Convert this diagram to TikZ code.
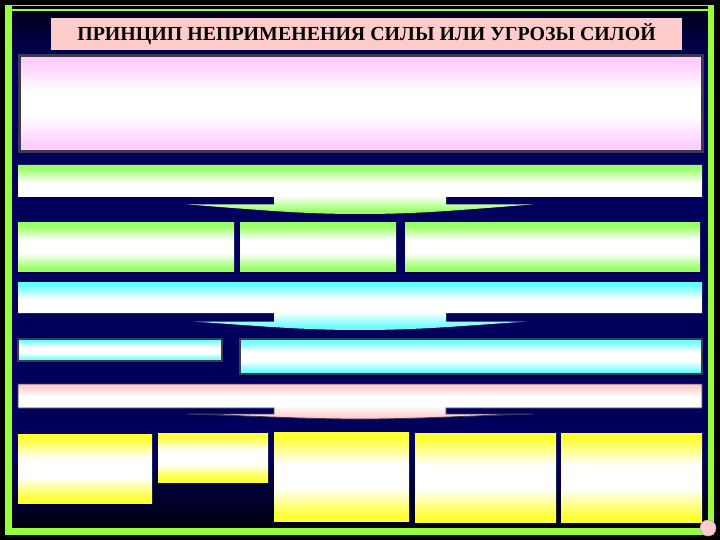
\documentclass[tikz,border=0pt]{standalone}
\usepackage{fontspec}
\setmainfont{Liberation Serif}
\definecolor{frameg}{RGB}{150,255,60}
\definecolor{navy}{RGB}{0,0,92}
\definecolor{bgdark}{RGB}{0,0,14}
\definecolor{bgtop}{RGB}{0,0,28}
\definecolor{titlepink}{RGB}{255,204,204}
\definecolor{lilac}{RGB}{255,204,255}
\definecolor{bordergray}{RGB}{60,60,80}
\definecolor{lime}{RGB}{153,255,102}
\definecolor{aqua}{RGB}{102,255,255}
\definecolor{salmon}{RGB}{255,204,204}
\definecolor{lemon}{RGB}{255,255,51}
\pgfdeclareverticalshading{bgshade}{100bp}{color(0bp)=(bgdark); color(25bp)=(bgdark); color(32bp)=(navy); color(70bp)=(navy); color(75bp)=(bgtop); color(100bp)=(bgtop)}
\newcommand\mkband[2]{\pgfdeclareverticalshading{#1}{100bp}{color(0bp)=(#2); color(25bp)=(#2); color(28bp)=(#2); color(44bp)=(white); color(57bp)=(white); color(72bp)=(#2); color(75bp)=(#2); color(100bp)=(#2)}}
\mkband{limeband}{lime}
\mkband{aquaband}{aqua}
\mkband{salmonband}{salmon}
\mkband{lemonband}{lemon}
\mkband{lilacband}{lilac}
\begin{document}
\begin{tikzpicture}[x=1pt,y=-1pt,
  box/.style={rectangle, inner sep=0pt, outer sep=0pt, anchor=north west},
  limebox/.style={box, shade, shading=limeband},
  aquabox/.style={box, shade, shading=aquaband, draw=bordergray, line width=1.5pt},
  lemonbox/.style={box, shade, shading=lemonband}]
\useasboundingbox (0,0) rectangle (720,540);
\fill[black] (0,0) rectangle (720,540);
\shade[shading=bgshade] (12,11) rectangle (708,528);
% frame
\fill[frameg] (5,5) rectangle (12,535);
\fill[frameg] (708,5) rectangle (714,535);
\fill[frameg] (5,528) rectangle (714,535);
\fill[frameg] (5,5) rectangle (714,6.5);
\fill[frameg] (5,9) rectangle (714,11);
% title
\node[rectangle, inner sep=0pt, fill=titlepink, minimum width=631pt, minimum height=32pt,
  font=\bfseries\fontsize{19.9}{23}\selectfont] (title) at (366.5,34) {ПРИНЦИП НЕПРИМЕНЕНИЯ СИЛЫ ИЛИ УГРОЗЫ СИЛОЙ};
% big box
\node[box, shade, shading=lilacband, draw=bordergray, line width=3pt, minimum width=683pt, minimum height=96pt] (intro) at (19,56) {};
% green banner
\shade[shading=limeband] (18,165) -- (702,165) -- (702,197) -- (446,197) -- (446,204.5) -- (532,204.5)
  .. controls (460,210) and (420,214) .. (360,214) .. controls (300,214) and (260,210) .. (188,204.5)
  -- (274,204.5) -- (274,197) -- (18,197) -- cycle;
\node[limebox, minimum width=216pt, minimum height=48pt] (g1) at (18,223) {};
\node[limebox, minimum width=156pt, minimum height=48pt] (g2) at (240,223) {};
\node[limebox, minimum width=295pt, minimum height=48pt] (g3) at (405,223) {};
% cyan banner
\shade[shading=aquaband] (18,282) -- (702,282) -- (702,313) -- (446,313) -- (446,321.5) -- (527,321.5)
  .. controls (460,326) and (420,330) .. (360,330) .. controls (300,330) and (260,326) .. (193,321.5)
  -- (274,321.5) -- (274,313) -- (18,313) -- cycle;
\node[aquabox, minimum width=204pt, minimum height=22pt] (c1) at (18,339) {};
\node[aquabox, minimum width=462pt, minimum height=35pt] (c2) at (240,339) {};
% pink banner
\shade[shading=salmonband, draw=bordergray, line width=0.8pt] (18,384) -- (702,384) -- (702,408) -- (446,408) -- (446,414) -- (533,414)
  .. controls (460,416) and (420,419) .. (360,419) .. controls (300,419) and (260,416) .. (188,414)
  -- (274,414) -- (274,408) -- (18,408) -- cycle;
% yellow boxes
\node[lemonbox, minimum width=134pt, minimum height=69pt] (y1) at (18,434) {};
\node[lemonbox, minimum width=110pt, minimum height=49pt] (y2) at (158,433) {};
\node[lemonbox, minimum width=135pt, minimum height=89pt] (y3) at (274,432) {};
\node[lemonbox, minimum width=141pt, minimum height=89pt] (y4) at (415,433) {};
\node[lemonbox, minimum width=141pt, minimum height=89pt] (y5) at (561,433) {};
% corner dot
\node[circle, inner sep=0pt, minimum size=16pt, fill=salmon, draw=gray!70, line width=0.6pt] (dot) at (708,528) {};
\end{tikzpicture}
\end{document}
